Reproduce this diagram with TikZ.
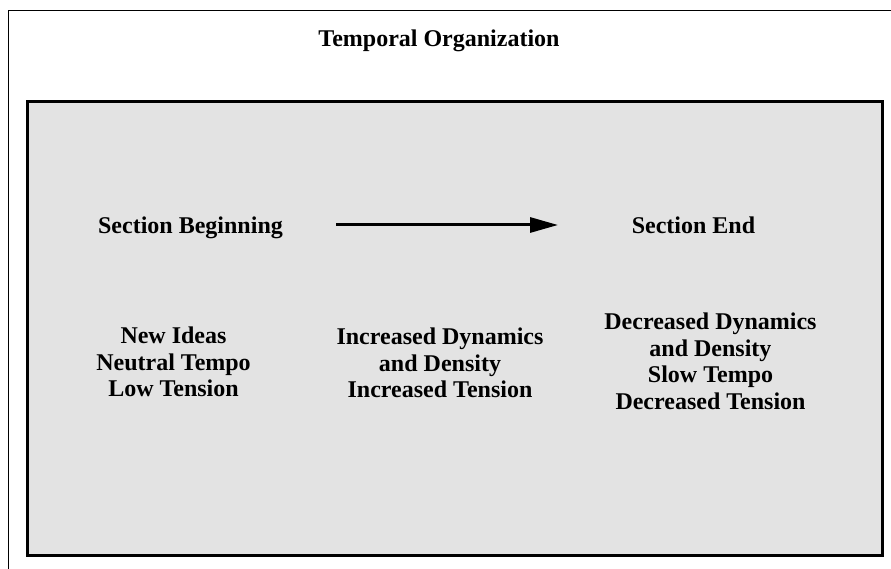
\documentclass[tikz,border=0pt]{standalone}
\usepackage{fontspec}
\setmainfont{Liberation Serif}
\usetikzlibrary{arrows.meta}
\definecolor{boxgray}{HTML}{E3E3E3}
\tikzset{
  lbl/.style={font=\bfseries\fontsize{24}{26.5}\selectfont, inner sep=0pt, align=center, text=black},
  panel/.style={draw=black, line width=3pt, fill=boxgray},
  frame/.style={draw=black, line width=1pt},
  flow/.style={line width=3pt, -{Triangle[length=28pt,width=15pt]}}
}
\begin{document}
\begin{tikzpicture}[x=1pt,y=-1pt]
\useasboundingbox (0,0) rectangle (891,569);
\clip (0,0) rectangle (891,569);
\fill[white] (0,0) rectangle (891,569);
\draw[frame] (8.7,10.5) rectangle (920,600);
\draw[panel] (27.5,101.5) rectangle (882.5,555);
\node[lbl, anchor=base] (title) at (439,46.5) {Temporal Organization};
\node[lbl, anchor=base] (sb) at (190.5,234) {Section Beginning};
\node[lbl, anchor=base] (se) at (693.5,233.5) {Section End};
\coordinate (a1) at (336,225);
\coordinate (a2) at (558,225);
\draw[flow] (a1) -- (a2);
\node[lbl, anchor=north] (left) at (173.5,327) {New Ideas\\Neutral Tempo\\Low Tension};
\node[lbl, anchor=north] (mid) at (440,328) {Increased Dynamics\\and Density\\Increased Tension};
\node[lbl, anchor=north] (right) at (710.5,313) {Decreased Dynamics\\and Density\\Slow Tempo\\Decreased Tension};
\end{tikzpicture}
\end{document}
